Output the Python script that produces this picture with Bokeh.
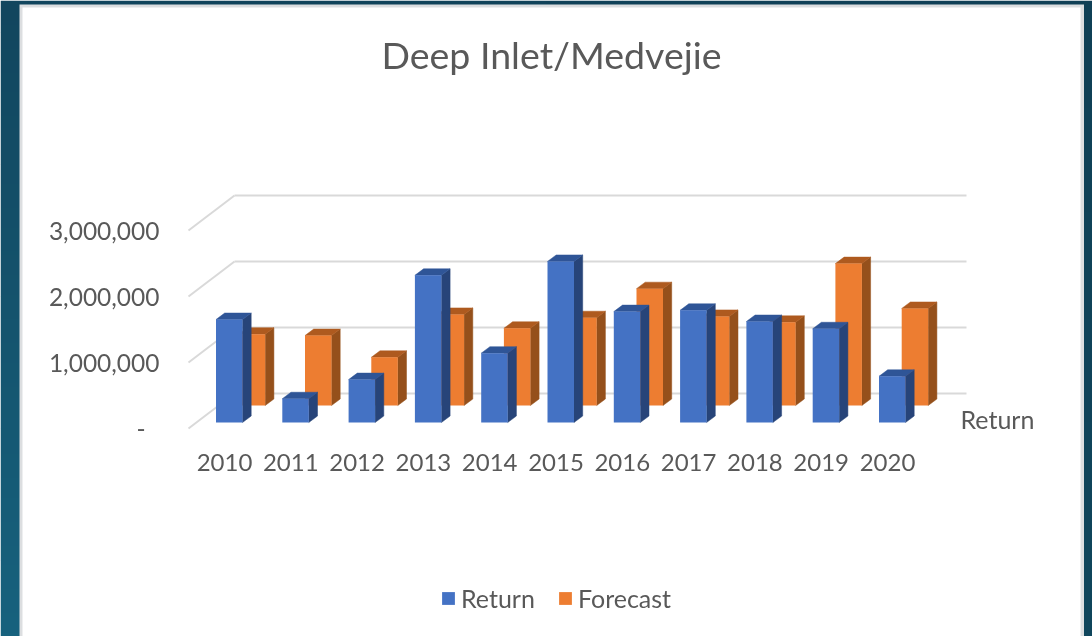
import numpy as np
from bokeh.core.properties import value
from bokeh.embed import file_html
from bokeh.models import FixedTicker, Legend, LegendItem, LinearAxis, Range1d
from bokeh.plotting import figure
from bokeh.resources import INLINE

# ---- data ----
years = ["2010", "2011", "2012", "2013", "2014", "2015", "2016", "2017", "2018", "2019", "2020"]
returns = [1560000, 360000, 650000, 2230000, 1050000, 2440000, 1680000, 1700000, 1530000, 1420000, 700000]
forecast = [1080000, 1060000, 730000, 1380000, 1170000, 1330000, 1770000, 1350000, 1260000, 2150000, 1470000]
y_ticks = [0, 1000000, 2000000, 3000000]
y_labels = ["-", "1,000,000", "2,000,000", "3,000,000"]
series_names = ["Return", "Forecast"]
title_text = "Deep Inlet/Medvejie"
depth_label = "Return"

# ---- scales: 1 category = 66.3 px, 1,000,000 = 66 px ----
W, H = 1092, 636
PX_X = 66.3
PX_Y = 66 / 1e6
ORIGIN_X, ORIGIN_Y = 224, 428


def ux(px):
    return px / PX_X


def uy(px):
    return px / PX_Y


p = figure(
    width=W, height=H, output_backend="svg", toolbar_location=None,
    x_axis_location=None, y_axis_location=None, min_border=0,
    x_range=Range1d(-ux(ORIGIN_X), ux(W - ORIGIN_X)),
    y_range=Range1d(-uy(H - ORIGIN_Y), uy(ORIGIN_Y)),
    outline_line_color=None, background_fill_color="#ffffff", border_fill_color="#ffffff",
    styles={"position": "fixed", "left": "0px", "top": "0px"},
)
X0, X1 = p.x_range.start, p.x_range.end
Y0, Y1 = p.y_range.start, p.y_range.end

# ---- slide background (soft gradient) ----
ny, nx = 160, 40
v = np.linspace(0, 1, ny)[:, None]
h = np.linspace(0, 1, nx)[None, :]
tl, bl, tr, br = map(np.array, [(18, 70, 94), (23, 98, 126), (16, 64, 86), (15, 70, 92)])
img = np.zeros((ny, nx), dtype=np.uint32)
view = img.view(dtype=np.uint8).reshape((ny, nx, 4))
for c in range(3):
    view[:, :, c] = (tl[c] * (1 - h) * (1 - v) + bl[c] * (1 - h) * v
                     + tr[c] * h * (1 - v) + br[c] * h * v).astype(np.uint8)[::-1]
view[:, :, 3] = 255
p.image_rgba(image=[img], x=X0, y=Y0, dw=X1 - X0, dh=Y1 - Y0)


# ---- white chart panel with grey rim ----
def xp(px):
    return X0 + ux(px)


def yp(px):
    return Y1 - uy(px)


p.quad(left=xp(19), right=xp(1083.5), top=yp(4), bottom=Y0, fill_color="#dcdee0", line_color=None)
p.quad(left=xp(22), right=xp(1080), top=yp(7), bottom=Y0, fill_color="#ffffff", line_color=None)

# ---- gridlines: back wall and left wall ----
front_x, back_x, end_x = ux(188 - ORIGIN_X), ux(234 - ORIGIN_X), ux(966 - ORIGIN_X)
wall_dy = uy(35)
grid_color = "#d9d9d9"
p.segment(x0=[front_x] * len(y_ticks), y0=y_ticks,
          x1=[back_x] * len(y_ticks), y1=[t + wall_dy for t in y_ticks],
          line_color=grid_color, line_width=2)
p.segment(x0=[back_x] * len(y_ticks), y0=[t + wall_dy for t in y_ticks],
          x1=[end_x] * len(y_ticks), y1=[t + wall_dy for t in y_ticks],
          line_color=grid_color, line_width=2)

# ---- 3D bars ----
BAR_W = ux(26.5)
DEPTH_X, DEPTH_Y = ux(8.7), uy(6.5)


def draw_series(vals, off_x, off_y, front, side, top):
    x0 = [i + off_x for i in range(len(vals))]
    x1 = [a + BAR_W for a in x0]
    base = [off_y] * len(vals)
    tops = [off_y + q for q in vals]
    side_xs = [[b, b + DEPTH_X, b + DEPTH_X, b] for b in x1]
    side_ys = [[off_y, off_y + DEPTH_Y, t + DEPTH_Y, t] for t in tops]
    top_xs = [[a, b, b + DEPTH_X, a + DEPTH_X] for a, b in zip(x0, x1)]
    top_ys = [[t, t, t + DEPTH_Y, t + DEPTH_Y] for t in tops]
    p.patches(side_xs, side_ys, fill_color=side, line_color=side, line_width=0.5)
    p.patches(top_xs, top_ys, fill_color=top, line_color=top, line_width=0.5)
    return p.quad(left=x0, right=x1, top=tops, bottom=base, fill_color=front, line_color=None)


r_fc = draw_series(forecast, ux(305 - 224 - 66.8), uy(23), "#ed7d31", "#95501b", "#ae5a1f")
r_re = draw_series(returns, ux(215.5 - 224), uy(6), "#4472c4", "#274479", "#2f5597")

# ---- axes ----
text_color = "#595959"
font = "Lato"
common = dict(axis_line_color=None, major_tick_line_color=None, minor_tick_line_color=None,
              major_label_text_color=text_color, major_label_text_font=font)
xax = LinearAxis(fixed_location=0, ticker=FixedTicker(ticks=list(range(len(years)))),
                 major_label_overrides={i: y for i, y in enumerate(years)},
                 major_label_standoff=19, major_label_text_font_size="24px", **common)
p.add_layout(xax, "below")
yax = LinearAxis(fixed_location=front_x, ticker=FixedTicker(ticks=y_ticks[1:]),
                 major_label_overrides=dict(zip(y_ticks[1:], y_labels[1:])),
                 major_label_standoff=23, major_label_text_font_size="24.5px", **common)
p.add_layout(yax, "left")
yax0 = LinearAxis(fixed_location=front_x, ticker=FixedTicker(ticks=y_ticks[:1]),
                  major_label_overrides=dict(zip(y_ticks[:1], y_labels[:1])),
                  major_label_standoff=37, major_label_text_font_size="24.5px", **common)
p.add_layout(yax0, "left")

# ---- texts ----
p.text(x=[xp(551)], y=[yp(54)], text=[title_text], text_align="center", text_baseline="middle",
       text_color=text_color, text_font=value(font), text_font_size="37.5px")
p.text(x=[xp(960)], y=[yp(418)], text=[depth_label], text_align="left", text_baseline="middle",
       text_color=text_color, text_font=value(font), text_font_size="25px")

# ---- legend ----
legend = Legend(
    items=[LegendItem(label=series_names[0], renderers=[r_re]),
           LegendItem(label=series_names[1], renderers=[r_fc])],
    orientation="horizontal", location=(440, 23), border_line_color=None,
    background_fill_alpha=0, glyph_width=16, glyph_height=16, label_standoff=5, spacing=22,
    label_text_color=text_color, label_text_font=font, label_text_font_size="25px",
    padding=6, margin=0,
)
p.add_layout(legend, "center")

open("out.html", "w").write(file_html(p, INLINE))
